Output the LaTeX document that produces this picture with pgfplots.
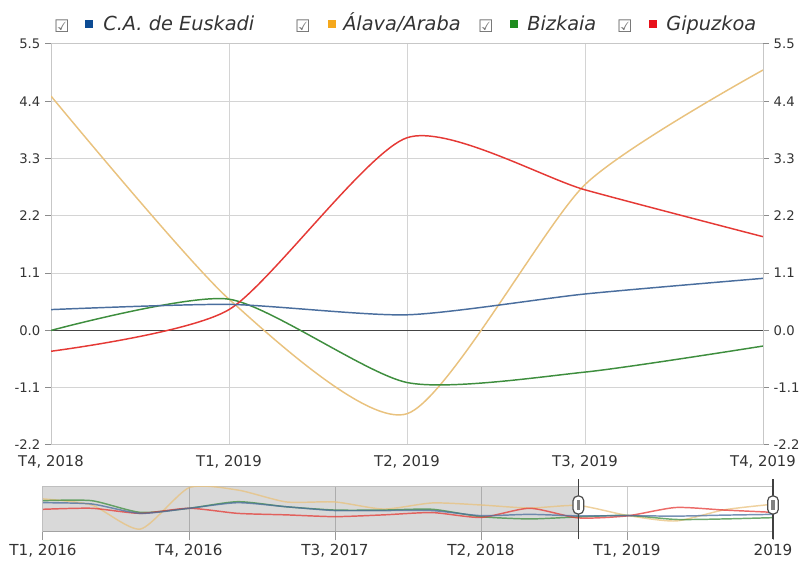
\documentclass[border=0pt]{standalone}
\usepackage{fontspec}
\setmainfont{DejaVu Sans}
\usepackage{pgfplots}
\pgfplotsset{compat=1.18}
\definecolor{txt}{HTML}{333333}
\definecolor{cEus}{HTML}{4A6E9E}
\definecolor{cEusSq}{HTML}{0D4C94}
\definecolor{cAla}{HTML}{E9C27E}
\definecolor{cAlaSq}{HTML}{F5A81C}
\definecolor{cBiz}{HTML}{3E8E3E}
\definecolor{cBizSq}{HTML}{1E8C1E}
\definecolor{cGip}{HTML}{E53935}
\definecolor{cGipSq}{HTML}{E8101A}
\definecolor{zero}{HTML}{444444}
\begin{document}
\begin{tikzpicture}
\useasboundingbox (0,0) rectangle (604.5pt,420pt);
\pgfplotsset{
 mainbase/.style={
   at={(38.25pt,86.25pt)}, anchor=south west, scale only axis,
   width=534pt, height=300.75pt,
   xmin=0, xmax=4, ymin=-2.2, ymax=5.5,
   ytick={-2.2,-1.1,0,1.1,2.2,3.3,4.4,5.5},
   yticklabels={-2.2,-1.1,0.0,1.1,2.2,3.3,4.4,5.5},
   yticklabel style={font=\fontsize{9.9}{11}\selectfont, text=txt},
   tick align=outside, major tick length=4.5pt,
   tick style={draw=black!45, line width=0.75pt},
   axis line style={draw=black!22, line width=0.75pt},
 }
}
\begin{axis}[mainbase,
  xtick={0,1,2,3,4}, xticklabels={{T4, 2018},{T1, 2019},{T2, 2019},{T3, 2019},{T4, 2019}},
  xticklabel style={font=\fontsize{11.1}{12}\selectfont, text=txt},
  xtick style={draw=none},
  ytick pos=left,
  grid=major, major grid style={draw=black!17, line width=0.75pt},
]
\addplot[draw=zero, line width=1.2pt] coordinates {(0,0) (4,0)};
\addplot[cAla, line width=1.1pt, smooth, tension=0.4] coordinates {(0,4.5) (1,0.6) (2,-1.6) (3,2.8) (4,5.0)};
\addplot[cBiz, line width=1.1pt, smooth, tension=0.4] coordinates {(0,0.0) (1,0.6) (2,-1.0) (3,-0.8) (4,-0.3)};
\addplot[cGip, line width=1.1pt, smooth, tension=0.4] coordinates {(0,-0.4) (1,0.4) (2,3.7) (3,2.7) (4,1.8)};
\addplot[cEus, line width=1.1pt, smooth, tension=0.4] coordinates {(0,0.4) (1,0.5) (2,0.3) (3,0.7) (4,1.0)};
\end{axis}
\begin{axis}[mainbase, hide x axis, axis y line*=right]
\end{axis}
% navigator
\begin{axis}[at={(32.25pt,21.2pt)}, anchor=south west, scale only axis,
  width=547.5pt, height=33.75pt,
  xmin=0, xmax=15, ymin=-5.85, ymax=11.9, ytick=\empty,
  xtick={0,3,6,9,12,15},
  xticklabels={{T1, 2016},{T4, 2016},{T3, 2017},{T2, 2018},{T1, 2019},{2019}},
  xtick pos=left, xmajorgrids, major grid style={draw=black!20, line width=0.75pt},
  tick align=outside, major tick length=6pt, tick style={draw=black!40, line width=0.75pt},
  axis line style={draw=black!25, line width=0.75pt},
  xticklabel style={font=\fontsize{11.4}{12}\selectfont, text=txt},
]
\fill[black, fill opacity=0.15] (axis cs:0,-5.85) rectangle (axis cs:11,11.9);
\addplot[cAla, opacity=0.75, line width=1.1pt, smooth, tension=0.4] coordinates {(0,7.1) (1,4.7) (2,-4.8) (3,11.5) (4,10.6) (5,5.9) (6,5.9) (7,3.1) (8,5.5) (9,4.7) (10,3.5) (11,4.5) (12,0.6) (13,-1.6) (14,2.8) (15,5.0)};
\addplot[cBiz, opacity=0.75, line width=1.1pt, smooth, tension=0.4] coordinates {(0,6.4) (1,6.4) (2,1.8) (3,3.4) (4,6.0) (5,4.0) (6,2.7) (7,2.7) (8,3.0) (9,0.1) (10,-0.8) (11,0.0) (12,0.6) (13,-1.0) (14,-0.8) (15,-0.3)};
\addplot[cGip, opacity=0.75, line width=1.1pt, smooth, tension=0.4] coordinates {(0,3.0) (1,3.4) (2,1.4) (3,3.4) (4,1.4) (5,0.8) (6,0.1) (7,0.8) (8,1.7) (9,-0.2) (10,3.4) (11,-0.4) (12,0.4) (13,3.7) (14,2.7) (15,1.8)};
\addplot[cEus, opacity=0.75, line width=1.1pt, smooth, tension=0.4] coordinates {(0,5.6) (1,5.1) (2,1.4) (3,3.4) (4,5.6) (5,4.0) (6,2.5) (7,2.5) (8,2.5) (9,0.5) (10,1.0) (11,0.4) (12,0.5) (13,0.3) (14,0.7) (15,1.0)};
\end{axis}
% navigator handles
\foreach \hx in {433.8pt,579.75pt}{
  \draw[line width=1.1pt, draw=black!75] (\hx,15.5pt) -- (\hx,61pt);
  \node[draw=black!70, fill=white, line width=0.9pt, rounded corners=3.5pt, minimum width=8pt, minimum height=13.5pt, inner sep=0pt] at (\hx,41.25pt) {};
  \fill[black!50] ([xshift=-1.3pt,yshift=-3.6pt]\hx,41.25pt) rectangle ([xshift=1.3pt,yshift=3.6pt]\hx,41.25pt);
}
% legend
\foreach \cx/\sx/\tx/\col/\lab in {46.5pt/66.75pt/77.25pt/cEusSq/{C.A. de Euskadi},227.25pt/249pt/257.25pt/cAlaSq/{Álava/Araba},364.5pt/385.5pt/395.25pt/cBizSq/{Bizkaia},468.75pt/489.75pt/499.5pt/cGipSq/{Gipuzkoa}}{
  \node[text=black!55, font=\fontsize{13}{13}\selectfont, inner sep=0pt] at (\cx,400.5pt) {☑};
  \fill[\col] ([xshift=-3pt,yshift=-3pt]\sx,402pt) rectangle ([xshift=3pt,yshift=3pt]\sx,402pt);
  \node[anchor=base west, inner sep=0pt, text=txt, font=\fontsize{14.5}{15}\selectfont\itshape] at (\tx,397.3pt) {\lab};
}
\end{tikzpicture}
\end{document}
